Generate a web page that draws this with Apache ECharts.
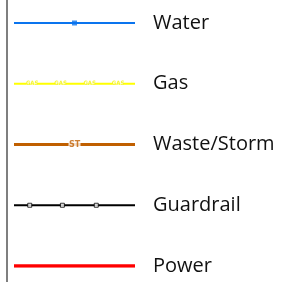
<!DOCTYPE html>
<html>
<head>
<meta charset="utf-8">
<script src="https://cdn.jsdelivr.net/npm/echarts@6/dist/echarts.min.js"></script>
<style>
  html, body { margin: 0; padding: 0; background: #fff; }
  #chart { width: 285px; height: 282px; }
</style>
</head>
<body>
<div id="chart"></div>
<script>
// legend rows, top to bottom
const names = ["Water", "Gas", "Waste/Storm", "Guardrail", "Power"];
const colors = ["#0a74ee", "#ffff00", "#c05f00", "#000000", "#ff0000"];
const widths = [2, 2, 3, 2, 3.5];

// where along each line the decorations sit (0..100 of line length)
const waterMarks = [50];
const gasLabels = [15, 38.5, 62.5, 86];
const stormLabels = [50];
const guardMarks = [13, 40, 68];

const chart = echarts.init(document.getElementById("chart"), null, { renderer: "canvas" });

const lineSeries = names.map((name, i) => ({
  name: name,
  type: "line",
  data: [
    [0, name],
    [100, name],
  ],
  showSymbol: false,
  lineStyle: { color: colors[i], width: widths[i] },
  z: 2,
}));

const option = {
  animation: false,
  grid: { left: 14, right: 150, top: 23, bottom: 16 },
  xAxis: {
    type: "value",
    min: 0,
    max: 100,
    show: false,
  },
  yAxis: {
    type: "category",
    data: names,
    inverse: true,
    boundaryGap: false,
    position: "right",
    axisLine: { show: false },
    axisTick: { show: false },
    splitLine: { show: false },
    axisLabel: {
      margin: 18,
      fontFamily: "Open Sans",
      fontSize: 20,
      color: "#111",
    },
  },
  graphic: [
    {
      type: "line",
      shape: { x1: 7, y1: 0, x2: 7, y2: 282 },
      style: { stroke: "#7f7f7f", lineWidth: 2 },
    },
  ],
  series: [
    ...lineSeries,
    {
      name: "waterMarks",
      type: "scatter",
      data: waterMarks.map((x) => [x, "Water"]),
      symbol: "rect",
      symbolSize: 5,
      itemStyle: { color: colors[0] },
      z: 3,
    },
    {
      name: "gasLabels",
      type: "scatter",
      data: gasLabels.map((x) => [x, "Gas"]),
      symbol: "rect",
      symbolSize: [11, 5],
      itemStyle: { color: "#fff" },
      label: {
        show: true,
        position: "inside",
        formatter: "GAS",
        fontSize: 6,
        fontWeight: "bold",
        fontFamily: "DejaVu Sans Condensed",
        color: "#f4f400",
      },
      z: 3,
    },
    {
      name: "stormLabels",
      type: "scatter",
      data: stormLabels.map((x) => [x, "Waste/Storm"]),
      symbol: "rect",
      symbolSize: [12, 8],
      itemStyle: { color: "#fff" },
      label: {
        show: true,
        position: "inside",
        formatter: "ST",
        fontSize: 8,
        fontWeight: "bold",
        fontFamily: "DejaVu Sans",
        color: colors[2],
      },
      z: 3,
    },
    {
      name: "guardMarks",
      type: "scatter",
      data: guardMarks.map((x) => [x, "Guardrail"]),
      symbol: "rect",
      symbolSize: 4,
      itemStyle: { color: "#fff", borderColor: "#000", borderWidth: 1 },
      z: 3,
    },
  ],
};

chart.setOption(option, true);
</script>
</body>
</html>
